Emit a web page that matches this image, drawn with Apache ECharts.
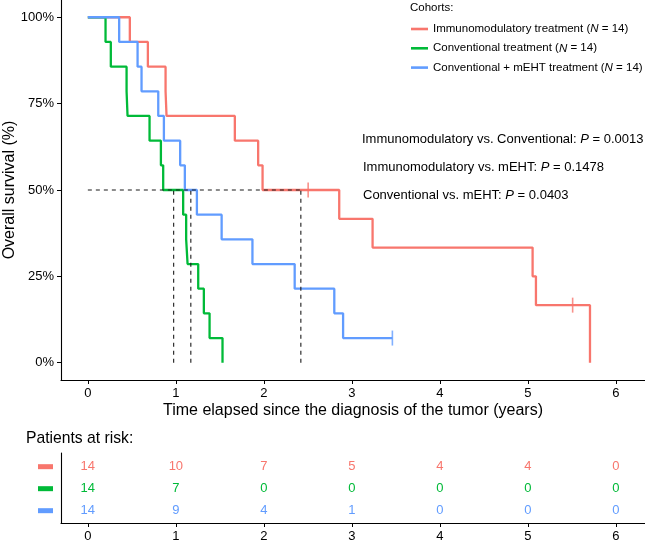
<!DOCTYPE html>
<html>
<head>
<meta charset="utf-8">
<script src="https://cdn.jsdelivr.net/npm/echarts@6/dist/echarts.min.js"></script>
<style>
html,body{margin:0;padding:0;background:#fff;}
#chart{width:645px;height:542px;}
</style>
</head>
<body>
<div id="chart"></div>
<script>
// ---------- data ----------
const cohortNames = ['Immunomodulatory treatment', 'Conventional treatment', 'Conventional + mEHT treatment'];
const cohortN = [14, 14, 14];

const immunoTimes = [0, 0.477, 0.682, 0.883, 0.894, 1.67, 1.935, 1.985, 2.856, 3.235, 5.053, 5.091, 5.705];
const immunoSurv  = [100, 92.86, 85.71, 78.57, 71.43, 64.29, 57.14, 50, 41.67, 33.33, 25, 16.67, 0];
const immunoCensorTimes = [2.503, 5.508];
const immunoCensorSurv  = [50, 16.67];

const convTimes = [0, 0.201, 0.261, 0.44, 0.451, 0.701, 0.83, 0.856, 1.083, 1.117, 1.133, 1.254, 1.318, 1.383, 1.53];
const convSurv  = [100, 92.86, 85.71, 78.57, 71.43, 64.29, 57.14, 50, 42.86, 35.71, 28.57, 21.43, 14.29, 7.14, 0];

const mehtTimes = [0, 0.356, 0.565, 0.61, 0.80, 0.864, 1.049, 1.102, 1.239, 1.52, 1.87, 2.35, 2.80, 2.90, 3.46];
const mehtSurv  = [100, 92.86, 85.71, 78.57, 71.43, 64.29, 57.14, 50, 42.86, 35.71, 28.57, 21.43, 14.29, 7.14, 7.14];
const mehtCensorTimes = [3.46];
const mehtCensorSurv  = [7.14];

const medianTimes = [0.975, 1.17, 2.42];
const medianLevel = 50;

const xTicks = [0, 1, 2, 3, 4, 5, 6];
const yTicks = [0, 25, 50, 75, 100];

const riskTimes   = [0, 1, 2, 3, 4, 5, 6];
const riskImmuno  = [14, 10, 7, 5, 4, 4, 0];
const riskConv    = [14, 7, 0, 0, 0, 0, 0];
const riskMeht    = [14, 9, 4, 1, 0, 0, 0];

const pValueLabels = [
  'Immunomodulatory vs. Conventional: {i|P} = 0.0013',
  'Immunomodulatory vs. mEHT: {i|P} = 0.1478',
  'Conventional vs. mEHT: {i|P} = 0.0403'
];

// ---------- styling ----------
const FONT = 'Liberation Sans, Arial, Helvetica, sans-serif';
const COLORS = ['#F8766D', '#00BA38', '#619CFF'];
const X_MIN = -0.305, X_MAX = 6.33;

const zip = (a, b) => a.map((v, i) => [v, b[i]]);

const curveSeries = [[immunoTimes, immunoSurv], [convTimes, convSurv], [mehtTimes, mehtSurv]].map((d, i) => ({
  name: cohortNames[i],
  type: 'line',
  step: 'end',
  xAxisIndex: 0, yAxisIndex: 0,
  data: zip(d[0], d[1]),
  showSymbol: false,
  symbol: 'none',
  color: COLORS[i],
  lineStyle: { color: COLORS[i], width: 2.3 },
  itemStyle: { color: COLORS[i] },
  z: 2 + i
}));

const censorSeries = [
  { t: immunoCensorTimes, s: immunoCensorSurv, c: COLORS[0] },
  { t: mehtCensorTimes, s: mehtCensorSurv, c: COLORS[2] }
].map(d => ({
  type: 'scatter',
  xAxisIndex: 0, yAxisIndex: 0,
  data: zip(d.t, d.s),
  symbol: 'rect',
  symbolSize: [1.6, 15],
  itemStyle: { color: d.c },
  z: 6
}));

const dashStyle = { color: '#1a1a1a', width: 1.1, type: [4, 4] };
const medianSeries = [{
  type: 'line', xAxisIndex: 0, yAxisIndex: 0, showSymbol: false, symbol: 'none',
  data: [[0, medianLevel], [Math.max(...medianTimes), medianLevel]],
  lineStyle: dashStyle, z: 8
}].concat(medianTimes.map(t => ({
  type: 'line', xAxisIndex: 0, yAxisIndex: 0, showSymbol: false, symbol: 'none',
  data: [[t, 0], [t, medianLevel]],
  lineStyle: dashStyle, z: 8
})));

const riskRows = [riskImmuno, riskConv, riskMeht];
const riskSeries = riskRows.map((row, i) => ({
  type: 'scatter',
  xAxisIndex: 1, yAxisIndex: 1,
  data: riskTimes.map((t, k) => [t, 3 - i, row[k]]),
  symbol: 'circle',
  symbolSize: 1,
  itemStyle: { color: 'transparent' },
  label: {
    show: true, position: 'inside', opacity: 1,
    formatter: p => String(p.value[2]),
    color: COLORS[i], fontSize: 13, fontFamily: FONT,
    textBorderWidth: 0
  },
  z: 5
}));

const axisLine = () => ({ show: true, onZero: false, lineStyle: { color: '#000', width: 1.1 } });
const axisTick = vals => ({ show: true, customValues: vals, length: 4, lineStyle: { color: '#000', width: 1 } });

const titles = [
  { text: 'Cohorts:', left: 410, top: 2, padding: 0,
    textStyle: { fontFamily: FONT, fontSize: 11.5, fontWeight: 'normal', color: '#000' } },
  { text: 'Patients at risk:', left: 26, top: 430.5, padding: 0,
    textStyle: { fontFamily: FONT, fontSize: 15.7, fontWeight: 'normal', color: '#000' } }
].concat(pValueLabels.map((txt, i) => ({
  text: txt, left: i === 0 ? 362 : 363, top: [133, 160.5, 189][i], padding: 0,
  textStyle: { fontFamily: FONT, fontSize: 13, fontWeight: 'normal', color: '#000',
    rich: { i: { fontStyle: 'italic', fontFamily: FONT, fontSize: 13, color: '#000' } } }
})));

const option = {
  animation: false,
  backgroundColor: '#fff',
  textStyle: { fontFamily: FONT },
  title: titles,
  legend: {
    data: cohortNames,
    orient: 'vertical',
    left: 411, top: 22,
    padding: 0,
    itemGap: 5.3,
    itemWidth: 17, itemHeight: 2.6,
    icon: 'rect',
    selectedMode: false,
    formatter: name => name + ' ({i|N} = ' + cohortN[cohortNames.indexOf(name)] + ')',
    textStyle: { fontFamily: FONT, fontSize: 11.5, color: '#000', lineHeight: 14,
      rich: { i: { fontStyle: 'italic', fontFamily: FONT, fontSize: 11.5, color: '#000', lineHeight: 14 } } }
  },
  grid: [
    { left: 61, right: 0, top: 0, bottom: 162, outerBoundsMode: 'none', containLabel: false },
    { left: 61, right: 0, top: 453, bottom: 19, outerBoundsMode: 'none', containLabel: false }
  ],
  xAxis: [
    { type: 'value', gridIndex: 0, min: X_MIN, max: X_MAX,
      name: 'Time elapsed since the diagnosis of the tumor (years)',
      nameLocation: 'middle', nameGap: 22.5, nameMoveOverlap: false,
      nameTextStyle: { fontFamily: FONT, fontSize: 16, color: '#000' },
      axisLine: axisLine(),
      axisTick: axisTick(xTicks),
      axisLabel: { customValues: xTicks, fontFamily: FONT, fontSize: 13, color: '#000', margin: 7 },
      splitLine: { show: false } },
    { type: 'value', gridIndex: 1, min: X_MIN, max: X_MAX,
      axisLine: axisLine(),
      axisTick: axisTick(riskTimes),
      axisLabel: { customValues: riskTimes, fontFamily: FONT, fontSize: 13, color: '#000', margin: 7 },
      splitLine: { show: false } }
  ],
  yAxis: [
    { type: 'value', gridIndex: 0, min: -5, max: 105, position: 'left',
      name: 'Overall survival (%)', nameLocation: 'middle', nameGap: 43, nameMoveOverlap: false,
      nameTextStyle: { fontFamily: FONT, fontSize: 16, color: '#000' },
      axisLine: axisLine(),
      axisTick: axisTick(yTicks),
      axisLabel: { customValues: yTicks, formatter: v => v + '%', fontFamily: FONT, fontSize: 13, color: '#000', margin: 7 },
      splitLine: { show: false } },
    { type: 'value', gridIndex: 1, min: 0.44, max: 3.622, position: 'left',
      axisLine: axisLine(),
      axisTick: { show: false },
      axisLabel: { customValues: [1, 2, 3], margin: 8,
        formatter: v => ({ 3: '{r| }', 2: '{g| }', 1: '{b| }' })[v] || '',
        rich: {
          r: { width: 15, height: 5, lineHeight: 5, fontSize: 1, backgroundColor: COLORS[0] },
          g: { width: 15, height: 5, lineHeight: 5, fontSize: 1, backgroundColor: COLORS[1] },
          b: { width: 15, height: 5, lineHeight: 5, fontSize: 1, backgroundColor: COLORS[2] }
        } },
      splitLine: { show: false } }
  ],
  series: curveSeries.concat(censorSeries, medianSeries, riskSeries)
};

const chart = echarts.init(document.getElementById('chart'), null, { renderer: 'canvas' });
chart.setOption(option);
</script>
</body>
</html>
